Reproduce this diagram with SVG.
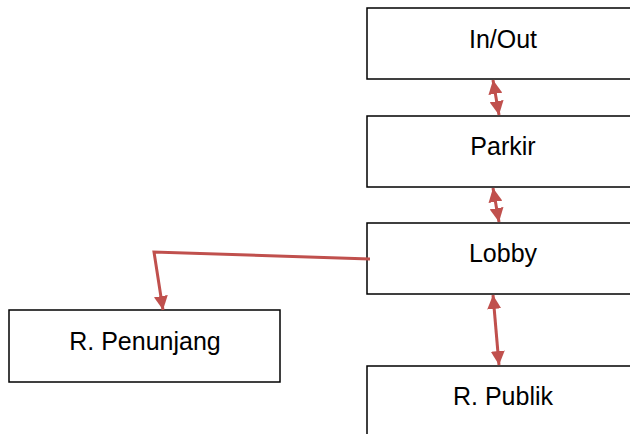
<svg xmlns="http://www.w3.org/2000/svg" width="630" height="434" viewBox="0 0 630 434">
<style>
.box{fill:#fff;stroke:#000;stroke-width:1.5}
.lbl{font-family:"Liberation Sans",Arial,sans-serif;font-size:25px;fill:#000;text-anchor:middle}
.con{fill:none;stroke:#C0504D;stroke-width:3}
</style>
<defs>
<marker id="ah" markerWidth="14" markerHeight="14" viewBox="0 0 14 14" refX="14" refY="7" orient="auto-start-reverse" markerUnits="userSpaceOnUse">
<path d="M0,0 L14,7 L0,14 Z" fill="#C0504D"/>
</marker>
</defs>
<rect width="630" height="434" fill="#fff"/>
<g id="inout"><rect class="box" x="367" y="8" width="280" height="71"/><text class="lbl" x="503" y="48">In/Out</text></g>
<g id="parkir"><rect class="box" x="367" y="116" width="280" height="71"/><text class="lbl" x="503" y="155">Parkir</text></g>
<g id="lobby"><rect class="box" x="367" y="223" width="280" height="71"/><text class="lbl" x="503" y="262">Lobby</text></g>
<g id="publik"><rect class="box" x="367" y="366" width="280" height="80"/><text class="lbl" x="503" y="405">R. Publik</text></g>
<g id="penunjang"><rect class="box" x="9" y="310" width="271" height="72"/><text class="lbl" x="145" y="350">R. Penunjang</text></g>
<g id="connectors">
<path class="con" d="M493,80 L499,115" marker-start="url(#ah)" marker-end="url(#ah)"/>
<path class="con" d="M493,188 L499,222" marker-start="url(#ah)" marker-end="url(#ah)"/>
<path class="con" d="M493,295 L499,365" marker-start="url(#ah)" marker-end="url(#ah)"/>
<path class="con" d="M370,259 L154,252 L163,310" marker-end="url(#ah)"/>
</g>
</svg>
